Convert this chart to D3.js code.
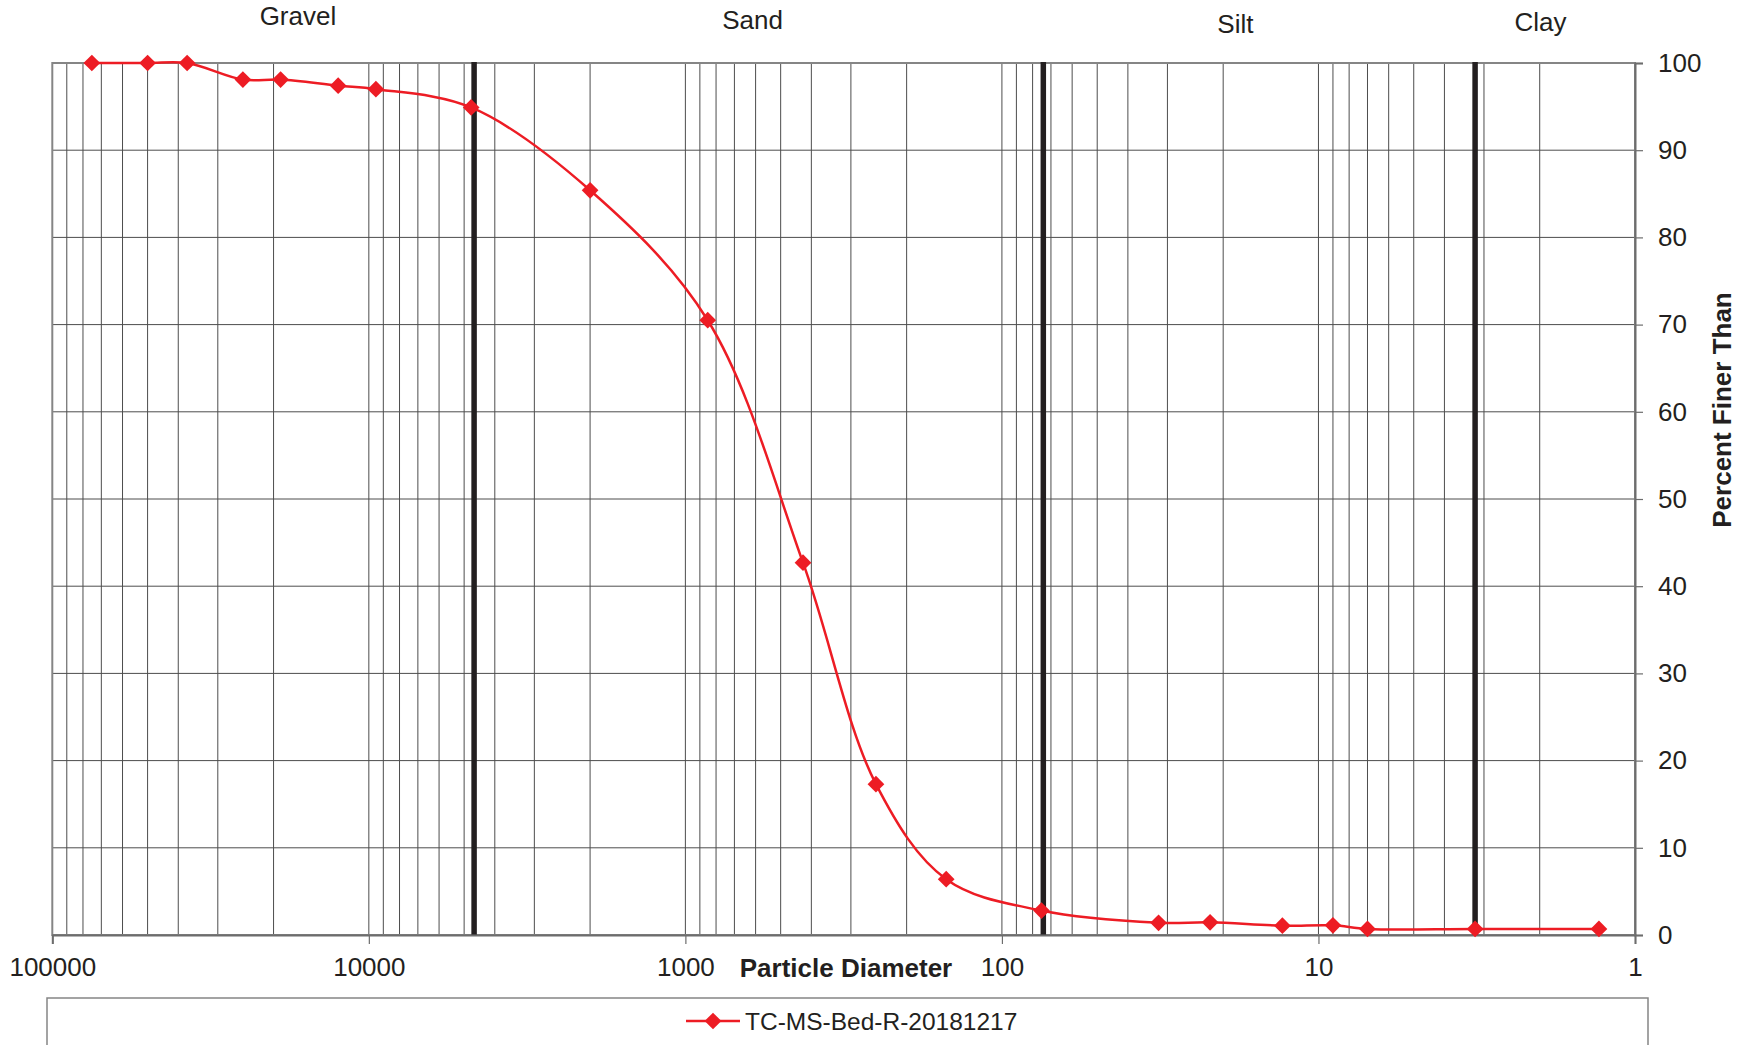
<!DOCTYPE html>
<html>
<head>
<meta charset="utf-8">
<script src="https://cdn.jsdelivr.net/npm/d3@7"></script>
<style>
  body { margin: 0; background: #fff; }
  svg { display: block; font-family: "Liberation Sans", Arial, sans-serif; }
</style>
</head>
<body>
<svg id="canvas"></svg>
<script>
// sample TC-MS-Bed-R-20181217
let seriesName = 'TC-MS-Bed-R-20181217';
let diameters = [75000, 50000, 37500, 25000, 19000, 12500, 9500, 4750, 2000, 850, 425, 250, 150, 75, 32, 22, 13, 9, 7, 3.2, 1.3];
let percentFiner = [100, 100, 100, 98.1, 98.1, 97.4, 97.0, 94.9, 85.4, 70.5, 42.7, 17.3, 6.4, 2.8, 1.4, 1.45, 1.07, 1.11, 0.69, 0.69, 0.69];

let xTicks = [100000, 10000, 1000, 100, 10, 1];
let yTicks = [0, 10, 20, 30, 40, 50, 60, 70, 80, 90, 100];

let zoneNames = ['Gravel', 'Sand', 'Silt', 'Clay'];
let zoneLabelAt = [16750, 613, 18.3, 1.99];
let boundaries = [4650, 74, 3.2];

let width = 1744;
let height = 1045;
let plotLeft = 52.3, plotRight = 1635, plotTop = 63, plotBottom = 935;
let ink = '#231f20';
let red = '#ed1c24';

let svg = d3.select('#canvas').attr('width', width).attr('height', height);

let xScale = d3.scaleLog().domain([100000, 1]).range([plotLeft, plotRight]);
let yScale = d3.scaleLinear().domain([0, 100]).range([plotBottom, plotTop]);

// log grid: 1..9 in every decade
let minor = [];
for (let e = 0; e < 5; e++) {
  for (let m = 2; m <= 9; m++) minor.push(m * Math.pow(10, e));
  if (e > 0) minor.push(Math.pow(10, e));
}

svg.append('g').selectAll('line')
  .data(minor)
  .enter().append('line')
  .attr('x1', d => xScale(d)).attr('x2', d => xScale(d))
  .attr('y1', plotTop).attr('y2', plotBottom)
  .attr('stroke', '#4d4d4d').attr('stroke-width', 1);

svg.append('g').selectAll('line')
  .data(yTicks.filter(d => d > 0 && d < 100))
  .enter().append('line')
  .attr('x1', plotLeft).attr('x2', plotRight)
  .attr('y1', d => yScale(d)).attr('y2', d => yScale(d))
  .attr('stroke', '#4d4d4d').attr('stroke-width', 1);

// frame
svg.append('rect')
  .attr('x', plotLeft).attr('y', plotTop)
  .attr('width', plotRight - plotLeft).attr('height', plotBottom - plotTop)
  .attr('fill', 'none').attr('stroke', '#858585').attr('stroke-width', 2);

// zone boundaries
svg.append('g').selectAll('line')
  .data(boundaries)
  .enter().append('line')
  .attr('x1', d => xScale(d)).attr('x2', d => xScale(d))
  .attr('y1', plotTop - 1).attr('y2', plotBottom + 1)
  .attr('stroke', ink).attr('stroke-width', 5.5);

// axes
let xAxis = d3.axisBottom(xScale).tickValues(xTicks).tickFormat(d3.format('d')).tickSize(9).tickPadding(13.5);
let yAxis = d3.axisRight(yScale).tickValues(yTicks).tickFormat(d3.format('d')).tickSize(8).tickPadding(15);

let gx = svg.append('g').attr('transform', 'translate(0,' + plotBottom + ')').call(xAxis);
let gy = svg.append('g').attr('transform', 'translate(' + plotRight + ',0)').call(yAxis);
[gx, gy].forEach(g => {
  g.select('.domain').attr('stroke', '#6d6d6d').attr('stroke-width', 2);
  g.selectAll('.tick line').attr('stroke', '#6d6d6d').attr('stroke-width', 1.2);
  g.selectAll('.tick text').attr('fill', ink).style('font-size', '26px')
    .style('font-family', '"Liberation Sans", Arial, sans-serif');
});

// axis titles
svg.append('text')
  .attr('x', 846).attr('y', 977)
  .attr('text-anchor', 'middle')
  .attr('fill', ink).style('font-size', '26px').style('font-weight', 'bold')
  .text('Particle Diameter');

svg.append('text')
  .attr('transform', 'translate(1731,410) rotate(-90)')
  .attr('text-anchor', 'middle')
  .attr('fill', ink).style('font-size', '26px').style('font-weight', 'bold')
  .text('Percent Finer Than');

// zone labels
let zoneBase = [25, 29, 33, 31];
svg.append('g').selectAll('text')
  .data(zoneNames)
  .enter().append('text')
  .attr('x', (d, i) => xScale(zoneLabelAt[i]))
  .attr('y', (d, i) => zoneBase[i])
  .attr('text-anchor', 'middle')
  .attr('fill', ink).style('font-size', '26px')
  .text(d => d);

// series
let points = diameters.map((d, i) => ({ d: d, p: percentFiner[i] }));

let line = d3.line()
  .x(d => xScale(d.d))
  .y(d => yScale(d.p))
  .curve(d3.curveCatmullRom.alpha(0.5));

svg.append('path')
  .datum(points)
  .attr('d', line)
  .attr('fill', 'none').attr('stroke', red).attr('stroke-width', 2.5);

let diamond = d3.symbol().type(d3.symbolSquare).size(140);

svg.append('g').selectAll('path')
  .data(points)
  .enter().append('path')
  .attr('d', diamond)
  .attr('transform', d => 'translate(' + xScale(d.d) + ',' + yScale(d.p) + ') rotate(45)')
  .attr('fill', red);

// legend
svg.append('rect')
  .attr('x', 47).attr('y', 998)
  .attr('width', 1601).attr('height', 90)
  .attr('fill', 'none').attr('stroke', '#858585').attr('stroke-width', 1.5);

svg.append('line')
  .attr('x1', 686).attr('x2', 740).attr('y1', 1021).attr('y2', 1021)
  .attr('stroke', red).attr('stroke-width', 2.5);
svg.append('path')
  .attr('d', diamond)
  .attr('transform', 'translate(713,1021) rotate(45)')
  .attr('fill', red);
svg.append('text')
  .attr('x', 745).attr('y', 1030)
  .attr('fill', ink).style('font-size', '24.5px')
  .text(seriesName);
</script>
</body>
</html>
